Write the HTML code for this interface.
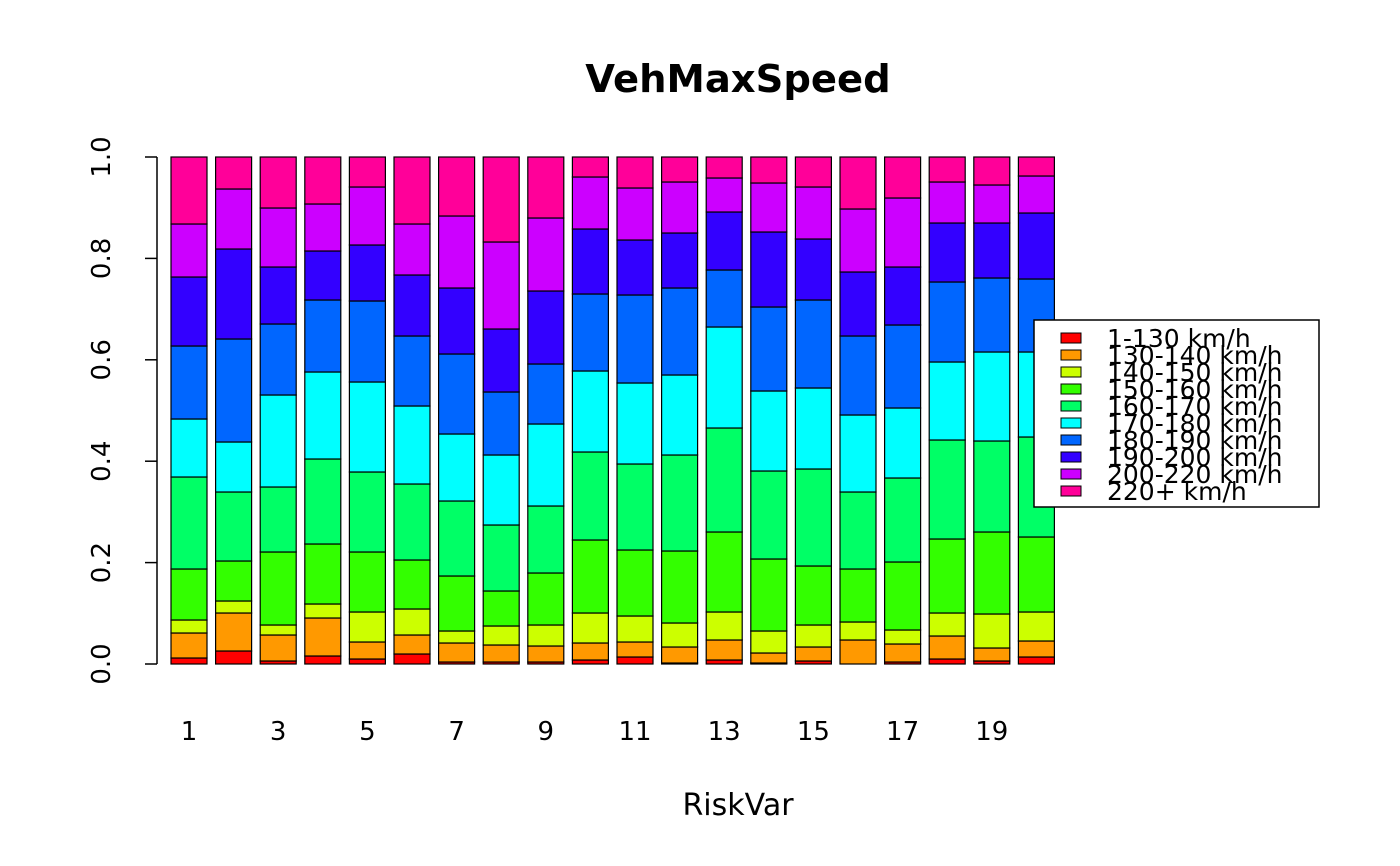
<!DOCTYPE html>
<html><head><meta charset="utf-8"><style>html,body{margin:0;padding:0;background:#fff}svg{display:block}</style></head>
<body>
<svg id="s" width="1400" height="866" xmlns="http://www.w3.org/2000/svg" font-family="DejaVu Sans, Liberation Sans, sans-serif">
<text x="738" y="92" font-size="38.5" font-weight="bold" text-anchor="middle">VehMaxSpeed</text>
<text x="738" y="815" font-size="30" text-anchor="middle">RiskVar</text>
</svg>
<script>
var s=document.getElementById('s'),ns='http://www.w3.org/2000/svg';
function el(t,a,txt){var e=document.createElementNS(ns,t);for(var k in a)e.setAttribute(k,a[k]);if(txt)e.textContent=txt;s.appendChild(e);return e;}
var cols=['#FF0000','#FF9900','#CCFF00','#33FF00','#00FF66','#00FFFF','#0066FF','#3300FF','#CC00FF','#FF0099'];
var B=[[658,633,620,569,477,419,346,277,224],[651,613,601,561,492,442,339,249,189],[661,635,625,552,487,395,324,267,208],[656,618,604,544,459,372,300,251,204],[659,642,612,552,472,382,301,245,187],[654,635,609,560,484,406,336,275,224],[662,643,631,576,501,434,354,288,216],[662,645,626,591,525,455,392,329,242],[662,646,625,573,506,424,364,291,218],[660,643,613,540,452,371,294,229,177],[657,642,616,550,464,383,295,240,188],[663,647,623,551,455,375,288,233,182],[660,640,612,532,428,327,270,212,178],[663,653,631,559,471,391,307,232,183],[661,647,625,566,469,388,300,239,187],[664,640,622,569,492,415,336,272,209],[662,644,630,562,478,408,325,267,198],[659,636,613,539,440,362,282,223,182],[661,648,614,532,441,352,278,223,185],[657,641,612,537,437,352,279,213,176]];
B.forEach(function(b,i){var x=171+i*44.6,prev=664,ys=b.concat([157]);ys.forEach(function(y,j){el('rect',{x:x,y:y,width:36,height:prev-y,fill:cols[j],stroke:'#000','stroke-width':1.2});prev=y;});
if(i%2==0)el('text',{x:x+18,y:740,'font-size':26,'text-anchor':'middle'},String(i+1));});
el('line',{x1:157,y1:157,x2:157,y2:664,stroke:'#000','stroke-width':1.5});
for(var k=0;k<=5;k++){var y=664-k*101.4;el('line',{x1:145,y1:y,x2:157,y2:y,stroke:'#000','stroke-width':1.5});
el('text',{x:0,y:0,'font-size':26,'text-anchor':'middle',transform:'translate(110,'+y+') rotate(-90)'},(k*0.2).toFixed(1));}
el('rect',{x:1034,y:320,width:285,height:187,fill:'#fff',stroke:'#000','stroke-width':1.5});
var labs=['1-130 km/h','130-140 km/h','140-150 km/h','150-160 km/h','160-170 km/h','170-180 km/h','180-190 km/h','190-200 km/h','200-220 km/h','220+ km/h'];
labs.forEach(function(l,i){var y=338+i*17;el('rect',{x:1061,y:y-5,width:20,height:10,fill:cols[i],stroke:'#000','stroke-width':1});
el('text',{x:1107,y:y+9,'font-size':25},l);});
</script>
</body></html>
